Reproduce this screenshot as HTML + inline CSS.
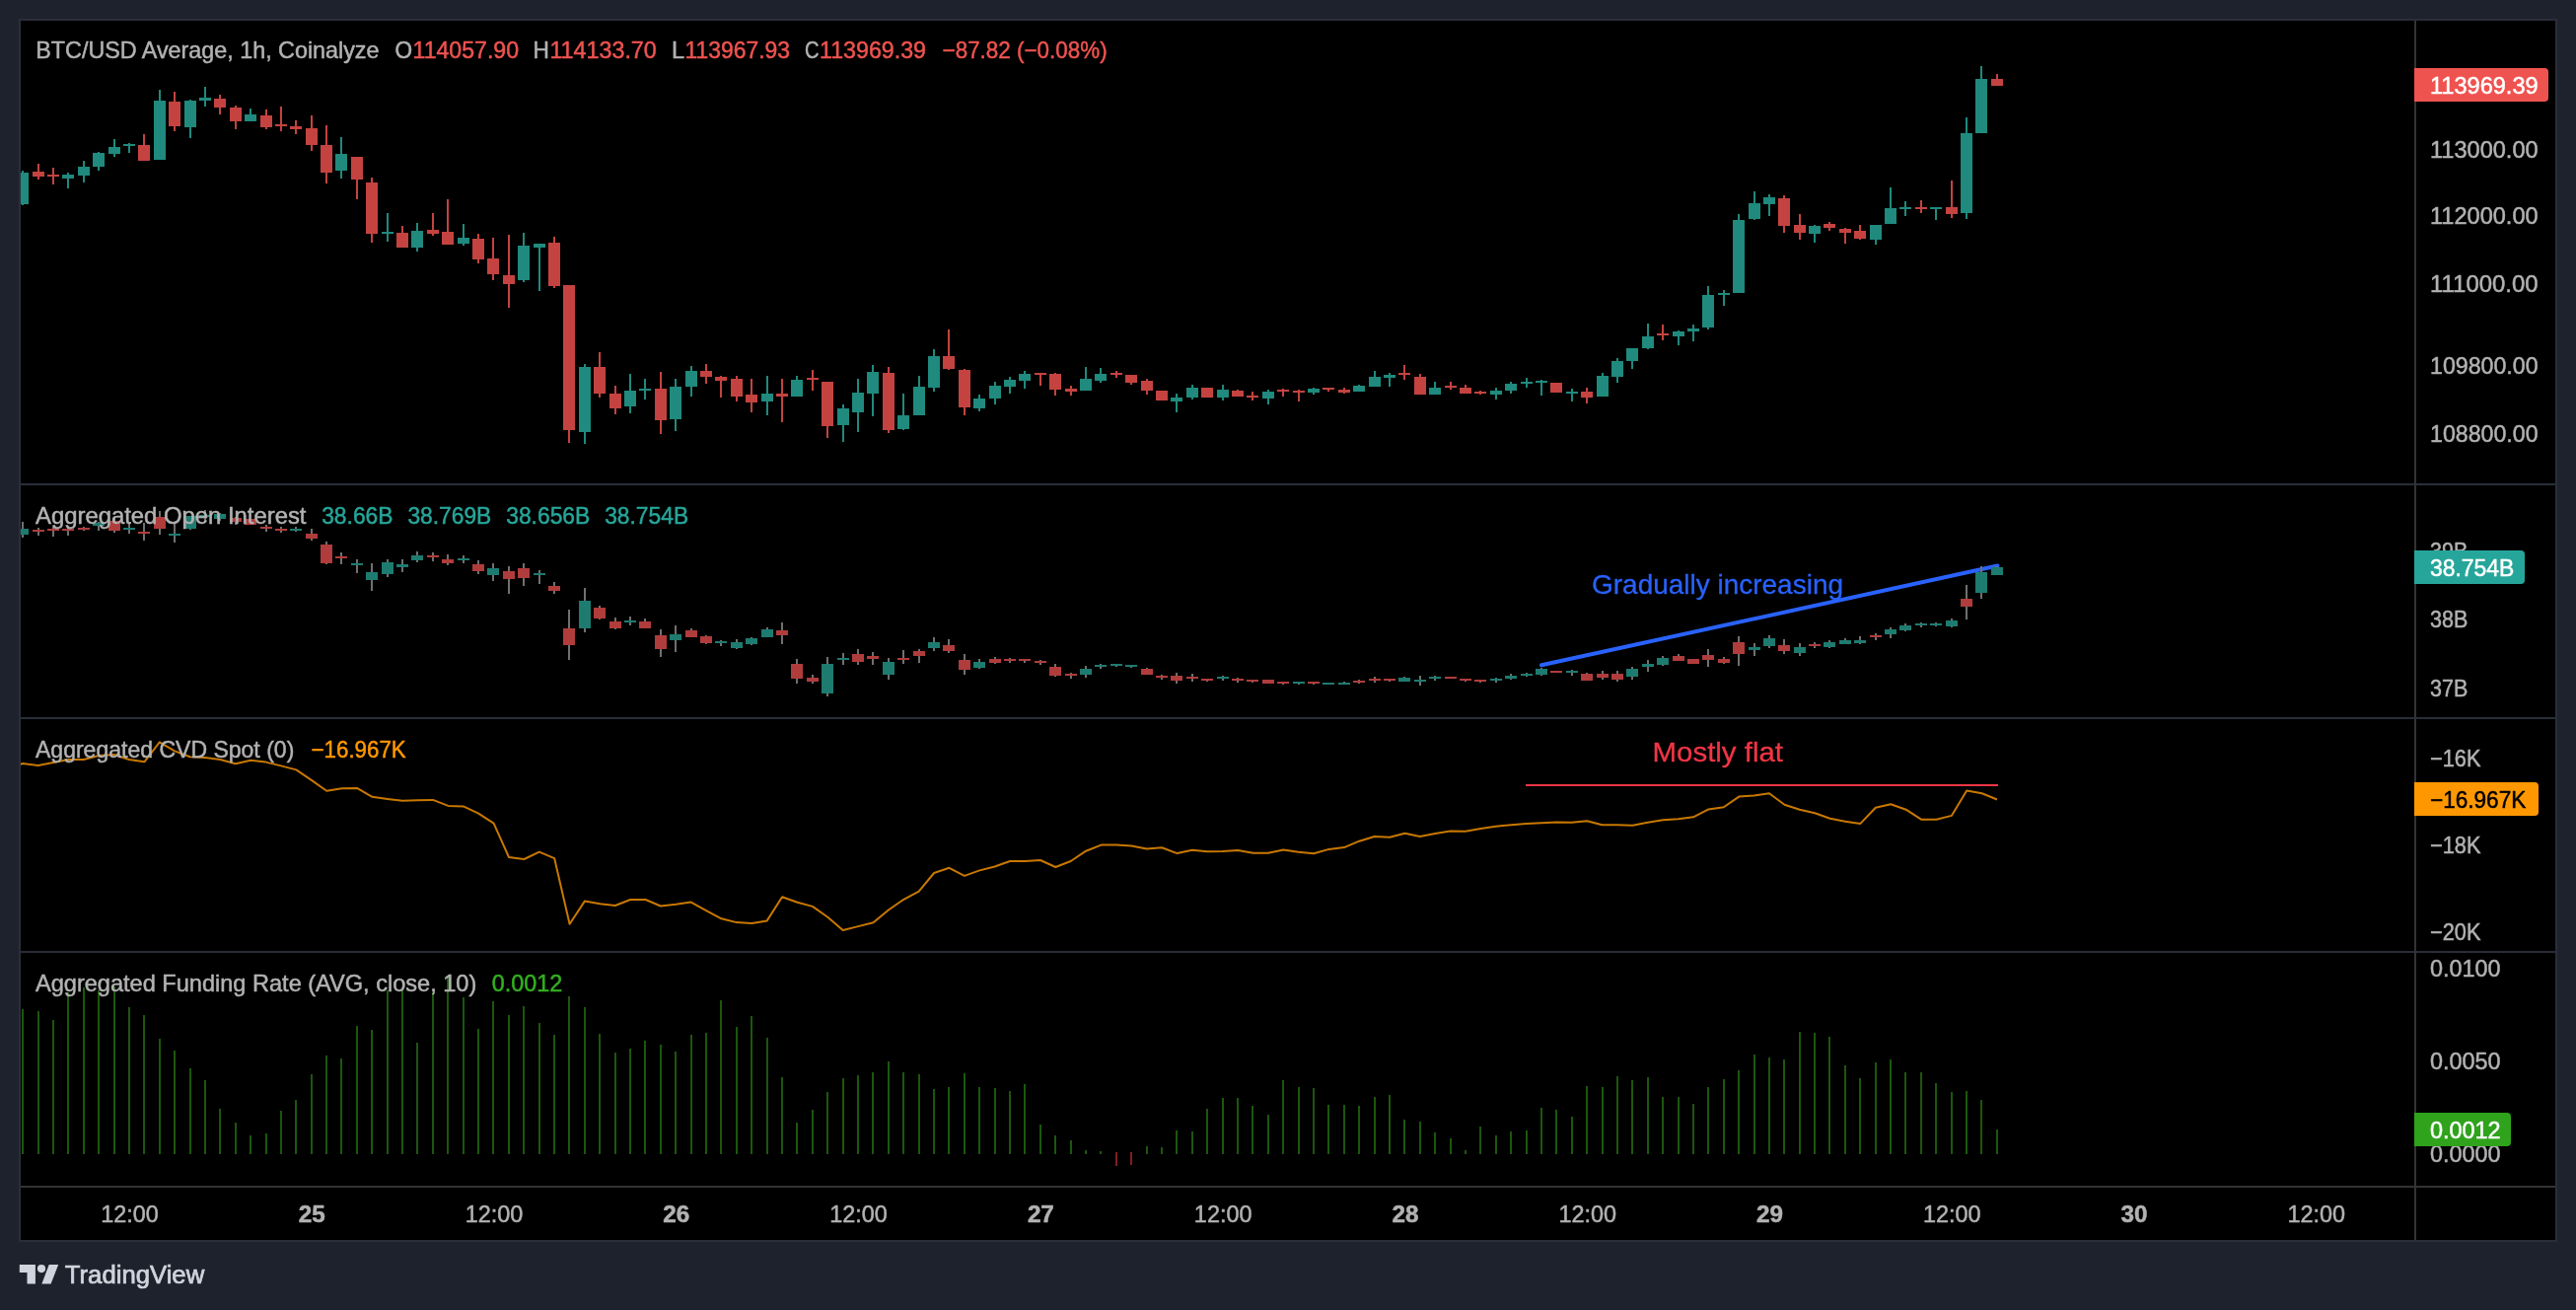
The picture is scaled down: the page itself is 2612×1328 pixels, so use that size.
<!DOCTYPE html>
<html><head><meta charset="utf-8"><title>BTC/USD chart</title>
<style>
html,body{margin:0;padding:0;background:#1e222d;}
body{width:2612px;height:1328px;overflow:hidden;}
svg{display:block;will-change:transform;font-family:"Liberation Sans",sans-serif;}
</style></head><body>
<svg width="2612" height="1328" viewBox="0 0 2612 1328">
<rect x="0" y="0" width="2612" height="1328" fill="#1e222d"/>
<rect x="19" y="19" width="2574" height="1240" fill="#2a2e39"/>
<rect x="21" y="21" width="2570" height="1236" fill="#000"/>
<g shape-rendering="crispEdges">
<clipPath id="cp"><rect x="21" y="21" width="2427" height="1181"/></clipPath>
</g>
<line x1="1563" y1="674.3" x2="2025.5" y2="573.5" stroke="#2962ff" stroke-width="4" stroke-linecap="round"/>
<g shape-rendering="crispEdges">
<g clip-path="url(#cp)">
<rect x="22" y="173" width="2" height="35" fill="#1f8a7d"/>
<rect x="17" y="175" width="12" height="32" fill="#1f8a7d"/>
<rect x="38" y="166" width="2" height="16" fill="#c44340"/>
<rect x="33" y="174" width="12" height="5" fill="#c44340"/>
<rect x="53" y="170" width="2" height="17" fill="#c44340"/>
<rect x="48" y="177" width="12" height="2" fill="#c44340"/>
<rect x="68" y="175" width="2" height="16" fill="#1f8a7d"/>
<rect x="63" y="177" width="12" height="4" fill="#1f8a7d"/>
<rect x="84" y="163" width="2" height="22" fill="#1f8a7d"/>
<rect x="79" y="169" width="12" height="9" fill="#1f8a7d"/>
<rect x="99" y="154" width="2" height="19" fill="#1f8a7d"/>
<rect x="94" y="155" width="12" height="14" fill="#1f8a7d"/>
<rect x="115" y="141" width="2" height="18" fill="#1f8a7d"/>
<rect x="110" y="149" width="12" height="7" fill="#1f8a7d"/>
<rect x="130" y="145" width="2" height="10" fill="#1f8a7d"/>
<rect x="125" y="146" width="12" height="2" fill="#1f8a7d"/>
<rect x="145" y="136" width="2" height="27" fill="#c44340"/>
<rect x="140" y="147" width="12" height="16" fill="#c44340"/>
<rect x="161" y="91" width="2" height="71" fill="#1f8a7d"/>
<rect x="156" y="102" width="12" height="60" fill="#1f8a7d"/>
<rect x="176" y="93" width="2" height="40" fill="#c44340"/>
<rect x="171" y="103" width="12" height="25" fill="#c44340"/>
<rect x="192" y="101" width="2" height="39" fill="#1f8a7d"/>
<rect x="187" y="102" width="12" height="27" fill="#1f8a7d"/>
<rect x="207" y="88" width="2" height="20" fill="#1f8a7d"/>
<rect x="202" y="99" width="12" height="3" fill="#1f8a7d"/>
<rect x="222" y="96" width="2" height="20" fill="#c44340"/>
<rect x="217" y="100" width="12" height="9" fill="#c44340"/>
<rect x="238" y="107" width="2" height="24" fill="#c44340"/>
<rect x="233" y="109" width="12" height="14" fill="#c44340"/>
<rect x="253" y="110" width="2" height="13" fill="#1f8a7d"/>
<rect x="248" y="116" width="12" height="7" fill="#1f8a7d"/>
<rect x="269" y="111" width="2" height="20" fill="#c44340"/>
<rect x="264" y="117" width="12" height="12" fill="#c44340"/>
<rect x="284" y="108" width="2" height="25" fill="#c44340"/>
<rect x="279" y="126" width="12" height="2" fill="#c44340"/>
<rect x="299" y="122" width="2" height="14" fill="#c44340"/>
<rect x="294" y="128" width="12" height="3" fill="#c44340"/>
<rect x="315" y="117" width="2" height="36" fill="#c44340"/>
<rect x="310" y="130" width="12" height="17" fill="#c44340"/>
<rect x="330" y="127" width="2" height="59" fill="#c44340"/>
<rect x="325" y="147" width="12" height="28" fill="#c44340"/>
<rect x="345" y="139" width="2" height="42" fill="#1f8a7d"/>
<rect x="340" y="156" width="12" height="17" fill="#1f8a7d"/>
<rect x="361" y="159" width="2" height="43" fill="#c44340"/>
<rect x="356" y="159" width="12" height="23" fill="#c44340"/>
<rect x="376" y="180" width="2" height="66" fill="#c44340"/>
<rect x="371" y="185" width="12" height="52" fill="#c44340"/>
<rect x="392" y="216" width="2" height="29" fill="#1f8a7d"/>
<rect x="387" y="235" width="12" height="2" fill="#1f8a7d"/>
<rect x="407" y="229" width="2" height="22" fill="#c44340"/>
<rect x="402" y="236" width="12" height="15" fill="#c44340"/>
<rect x="422" y="226" width="2" height="29" fill="#1f8a7d"/>
<rect x="417" y="234" width="12" height="17" fill="#1f8a7d"/>
<rect x="438" y="216" width="2" height="23" fill="#c44340"/>
<rect x="433" y="233" width="12" height="4" fill="#c44340"/>
<rect x="453" y="202" width="2" height="46" fill="#c44340"/>
<rect x="448" y="235" width="12" height="13" fill="#c44340"/>
<rect x="469" y="227" width="2" height="22" fill="#1f8a7d"/>
<rect x="464" y="241" width="12" height="6" fill="#1f8a7d"/>
<rect x="484" y="237" width="2" height="30" fill="#c44340"/>
<rect x="479" y="242" width="12" height="21" fill="#c44340"/>
<rect x="499" y="241" width="2" height="43" fill="#c44340"/>
<rect x="494" y="262" width="12" height="16" fill="#c44340"/>
<rect x="515" y="238" width="2" height="74" fill="#c44340"/>
<rect x="510" y="279" width="12" height="9" fill="#c44340"/>
<rect x="530" y="236" width="2" height="50" fill="#1f8a7d"/>
<rect x="525" y="249" width="12" height="35" fill="#1f8a7d"/>
<rect x="546" y="247" width="2" height="48" fill="#1f8a7d"/>
<rect x="541" y="247" width="12" height="4" fill="#1f8a7d"/>
<rect x="561" y="240" width="2" height="52" fill="#c44340"/>
<rect x="556" y="246" width="12" height="44" fill="#c44340"/>
<rect x="576" y="289" width="2" height="160" fill="#c44340"/>
<rect x="571" y="289" width="12" height="147" fill="#c44340"/>
<rect x="592" y="369" width="2" height="81" fill="#1f8a7d"/>
<rect x="587" y="372" width="12" height="66" fill="#1f8a7d"/>
<rect x="607" y="357" width="2" height="46" fill="#c44340"/>
<rect x="602" y="372" width="12" height="27" fill="#c44340"/>
<rect x="623" y="391" width="2" height="29" fill="#c44340"/>
<rect x="618" y="399" width="12" height="15" fill="#c44340"/>
<rect x="638" y="379" width="2" height="40" fill="#1f8a7d"/>
<rect x="633" y="396" width="12" height="16" fill="#1f8a7d"/>
<rect x="653" y="384" width="2" height="21" fill="#1f8a7d"/>
<rect x="648" y="394" width="12" height="2" fill="#1f8a7d"/>
<rect x="669" y="377" width="2" height="63" fill="#c44340"/>
<rect x="664" y="394" width="12" height="32" fill="#c44340"/>
<rect x="684" y="384" width="2" height="53" fill="#1f8a7d"/>
<rect x="679" y="392" width="12" height="33" fill="#1f8a7d"/>
<rect x="700" y="371" width="2" height="31" fill="#1f8a7d"/>
<rect x="695" y="376" width="12" height="16" fill="#1f8a7d"/>
<rect x="715" y="369" width="2" height="20" fill="#c44340"/>
<rect x="710" y="376" width="12" height="6" fill="#c44340"/>
<rect x="730" y="381" width="2" height="22" fill="#c44340"/>
<rect x="725" y="382" width="12" height="4" fill="#c44340"/>
<rect x="746" y="381" width="2" height="26" fill="#c44340"/>
<rect x="741" y="384" width="12" height="18" fill="#c44340"/>
<rect x="761" y="384" width="2" height="34" fill="#c44340"/>
<rect x="756" y="400" width="12" height="8" fill="#c44340"/>
<rect x="777" y="381" width="2" height="40" fill="#1f8a7d"/>
<rect x="772" y="399" width="12" height="8" fill="#1f8a7d"/>
<rect x="792" y="384" width="2" height="44" fill="#c44340"/>
<rect x="787" y="399" width="12" height="3" fill="#c44340"/>
<rect x="807" y="381" width="2" height="21" fill="#1f8a7d"/>
<rect x="802" y="385" width="12" height="17" fill="#1f8a7d"/>
<rect x="823" y="375" width="2" height="21" fill="#c44340"/>
<rect x="818" y="383" width="12" height="2" fill="#c44340"/>
<rect x="838" y="387" width="2" height="57" fill="#c44340"/>
<rect x="833" y="387" width="12" height="45" fill="#c44340"/>
<rect x="854" y="410" width="2" height="38" fill="#1f8a7d"/>
<rect x="849" y="414" width="12" height="17" fill="#1f8a7d"/>
<rect x="869" y="384" width="2" height="54" fill="#1f8a7d"/>
<rect x="864" y="398" width="12" height="20" fill="#1f8a7d"/>
<rect x="884" y="370" width="2" height="52" fill="#1f8a7d"/>
<rect x="879" y="377" width="12" height="22" fill="#1f8a7d"/>
<rect x="900" y="372" width="2" height="67" fill="#c44340"/>
<rect x="895" y="378" width="12" height="58" fill="#c44340"/>
<rect x="915" y="399" width="2" height="37" fill="#1f8a7d"/>
<rect x="910" y="421" width="12" height="14" fill="#1f8a7d"/>
<rect x="931" y="381" width="2" height="40" fill="#1f8a7d"/>
<rect x="926" y="392" width="12" height="29" fill="#1f8a7d"/>
<rect x="946" y="354" width="2" height="43" fill="#1f8a7d"/>
<rect x="941" y="361" width="12" height="32" fill="#1f8a7d"/>
<rect x="961" y="334" width="2" height="41" fill="#c44340"/>
<rect x="956" y="361" width="12" height="13" fill="#c44340"/>
<rect x="977" y="374" width="2" height="47" fill="#c44340"/>
<rect x="972" y="375" width="12" height="38" fill="#c44340"/>
<rect x="992" y="400" width="2" height="17" fill="#1f8a7d"/>
<rect x="987" y="404" width="12" height="10" fill="#1f8a7d"/>
<rect x="1008" y="387" width="2" height="23" fill="#1f8a7d"/>
<rect x="1003" y="391" width="12" height="13" fill="#1f8a7d"/>
<rect x="1023" y="382" width="2" height="17" fill="#1f8a7d"/>
<rect x="1018" y="385" width="12" height="7" fill="#1f8a7d"/>
<rect x="1038" y="376" width="2" height="18" fill="#1f8a7d"/>
<rect x="1033" y="379" width="12" height="7" fill="#1f8a7d"/>
<rect x="1054" y="378" width="2" height="13" fill="#c44340"/>
<rect x="1049" y="378" width="12" height="2" fill="#c44340"/>
<rect x="1069" y="378" width="2" height="23" fill="#c44340"/>
<rect x="1064" y="379" width="12" height="16" fill="#c44340"/>
<rect x="1085" y="391" width="2" height="10" fill="#c44340"/>
<rect x="1080" y="394" width="12" height="3" fill="#c44340"/>
<rect x="1100" y="372" width="2" height="24" fill="#1f8a7d"/>
<rect x="1095" y="384" width="12" height="12" fill="#1f8a7d"/>
<rect x="1115" y="373" width="2" height="15" fill="#1f8a7d"/>
<rect x="1110" y="379" width="12" height="7" fill="#1f8a7d"/>
<rect x="1131" y="376" width="2" height="7" fill="#c44340"/>
<rect x="1126" y="378" width="12" height="2" fill="#c44340"/>
<rect x="1146" y="380" width="2" height="10" fill="#c44340"/>
<rect x="1141" y="380" width="12" height="8" fill="#c44340"/>
<rect x="1162" y="384" width="2" height="16" fill="#c44340"/>
<rect x="1157" y="386" width="12" height="10" fill="#c44340"/>
<rect x="1177" y="396" width="2" height="10" fill="#c44340"/>
<rect x="1172" y="396" width="12" height="10" fill="#c44340"/>
<rect x="1192" y="399" width="2" height="19" fill="#1f8a7d"/>
<rect x="1187" y="403" width="12" height="4" fill="#1f8a7d"/>
<rect x="1208" y="390" width="2" height="15" fill="#1f8a7d"/>
<rect x="1203" y="393" width="12" height="10" fill="#1f8a7d"/>
<rect x="1223" y="393" width="2" height="10" fill="#c44340"/>
<rect x="1218" y="393" width="12" height="10" fill="#c44340"/>
<rect x="1239" y="390" width="2" height="16" fill="#1f8a7d"/>
<rect x="1234" y="395" width="12" height="8" fill="#1f8a7d"/>
<rect x="1254" y="395" width="2" height="7" fill="#c44340"/>
<rect x="1249" y="396" width="12" height="6" fill="#c44340"/>
<rect x="1269" y="397" width="2" height="9" fill="#c44340"/>
<rect x="1264" y="401" width="12" height="2" fill="#c44340"/>
<rect x="1285" y="395" width="2" height="15" fill="#1f8a7d"/>
<rect x="1280" y="397" width="12" height="7" fill="#1f8a7d"/>
<rect x="1300" y="394" width="2" height="8" fill="#c44340"/>
<rect x="1295" y="395" width="12" height="2" fill="#c44340"/>
<rect x="1316" y="395" width="2" height="12" fill="#c44340"/>
<rect x="1311" y="396" width="12" height="2" fill="#c44340"/>
<rect x="1331" y="393" width="2" height="7" fill="#1f8a7d"/>
<rect x="1326" y="394" width="12" height="4" fill="#1f8a7d"/>
<rect x="1346" y="393" width="2" height="4" fill="#c44340"/>
<rect x="1341" y="393" width="12" height="2" fill="#c44340"/>
<rect x="1362" y="393" width="2" height="6" fill="#c44340"/>
<rect x="1357" y="395" width="12" height="3" fill="#c44340"/>
<rect x="1377" y="390" width="2" height="7" fill="#1f8a7d"/>
<rect x="1372" y="391" width="12" height="6" fill="#1f8a7d"/>
<rect x="1393" y="376" width="2" height="16" fill="#1f8a7d"/>
<rect x="1388" y="382" width="12" height="10" fill="#1f8a7d"/>
<rect x="1408" y="378" width="2" height="14" fill="#1f8a7d"/>
<rect x="1403" y="380" width="12" height="3" fill="#1f8a7d"/>
<rect x="1423" y="370" width="2" height="15" fill="#c44340"/>
<rect x="1418" y="378" width="12" height="2" fill="#c44340"/>
<rect x="1439" y="379" width="2" height="21" fill="#c44340"/>
<rect x="1434" y="382" width="12" height="18" fill="#c44340"/>
<rect x="1454" y="387" width="2" height="13" fill="#1f8a7d"/>
<rect x="1449" y="393" width="12" height="7" fill="#1f8a7d"/>
<rect x="1470" y="387" width="2" height="8" fill="#c44340"/>
<rect x="1465" y="391" width="12" height="2" fill="#c44340"/>
<rect x="1485" y="390" width="2" height="9" fill="#c44340"/>
<rect x="1480" y="393" width="12" height="6" fill="#c44340"/>
<rect x="1500" y="396" width="2" height="4" fill="#c44340"/>
<rect x="1495" y="397" width="12" height="2" fill="#c44340"/>
<rect x="1516" y="393" width="2" height="12" fill="#1f8a7d"/>
<rect x="1511" y="396" width="12" height="4" fill="#1f8a7d"/>
<rect x="1531" y="387" width="2" height="12" fill="#1f8a7d"/>
<rect x="1526" y="389" width="12" height="7" fill="#1f8a7d"/>
<rect x="1547" y="383" width="2" height="10" fill="#1f8a7d"/>
<rect x="1542" y="387" width="12" height="2" fill="#1f8a7d"/>
<rect x="1562" y="385" width="2" height="16" fill="#1f8a7d"/>
<rect x="1557" y="386" width="12" height="2" fill="#1f8a7d"/>
<rect x="1577" y="388" width="2" height="10" fill="#c44340"/>
<rect x="1572" y="388" width="12" height="10" fill="#c44340"/>
<rect x="1593" y="394" width="2" height="13" fill="#1f8a7d"/>
<rect x="1588" y="397" width="12" height="2" fill="#1f8a7d"/>
<rect x="1608" y="393" width="2" height="16" fill="#c44340"/>
<rect x="1603" y="397" width="12" height="6" fill="#c44340"/>
<rect x="1624" y="378" width="2" height="24" fill="#1f8a7d"/>
<rect x="1619" y="381" width="12" height="21" fill="#1f8a7d"/>
<rect x="1639" y="363" width="2" height="25" fill="#1f8a7d"/>
<rect x="1634" y="366" width="12" height="16" fill="#1f8a7d"/>
<rect x="1654" y="353" width="2" height="21" fill="#1f8a7d"/>
<rect x="1649" y="353" width="12" height="13" fill="#1f8a7d"/>
<rect x="1670" y="328" width="2" height="26" fill="#1f8a7d"/>
<rect x="1665" y="341" width="12" height="12" fill="#1f8a7d"/>
<rect x="1685" y="329" width="2" height="16" fill="#c44340"/>
<rect x="1680" y="338" width="12" height="2" fill="#c44340"/>
<rect x="1701" y="335" width="2" height="15" fill="#1f8a7d"/>
<rect x="1696" y="336" width="12" height="5" fill="#1f8a7d"/>
<rect x="1716" y="329" width="2" height="17" fill="#1f8a7d"/>
<rect x="1711" y="333" width="12" height="3" fill="#1f8a7d"/>
<rect x="1731" y="290" width="2" height="44" fill="#1f8a7d"/>
<rect x="1726" y="299" width="12" height="33" fill="#1f8a7d"/>
<rect x="1747" y="294" width="2" height="16" fill="#1f8a7d"/>
<rect x="1742" y="297" width="12" height="2" fill="#1f8a7d"/>
<rect x="1762" y="217" width="2" height="80" fill="#1f8a7d"/>
<rect x="1757" y="223" width="12" height="74" fill="#1f8a7d"/>
<rect x="1778" y="194" width="2" height="29" fill="#1f8a7d"/>
<rect x="1773" y="206" width="12" height="16" fill="#1f8a7d"/>
<rect x="1793" y="197" width="2" height="22" fill="#1f8a7d"/>
<rect x="1788" y="200" width="12" height="7" fill="#1f8a7d"/>
<rect x="1808" y="198" width="2" height="38" fill="#c44340"/>
<rect x="1803" y="201" width="12" height="28" fill="#c44340"/>
<rect x="1824" y="217" width="2" height="26" fill="#c44340"/>
<rect x="1819" y="228" width="12" height="8" fill="#c44340"/>
<rect x="1839" y="228" width="2" height="18" fill="#1f8a7d"/>
<rect x="1834" y="229" width="12" height="8" fill="#1f8a7d"/>
<rect x="1854" y="225" width="2" height="9" fill="#c44340"/>
<rect x="1849" y="227" width="12" height="4" fill="#c44340"/>
<rect x="1870" y="231" width="2" height="16" fill="#c44340"/>
<rect x="1865" y="232" width="12" height="4" fill="#c44340"/>
<rect x="1885" y="228" width="2" height="15" fill="#c44340"/>
<rect x="1880" y="234" width="12" height="8" fill="#c44340"/>
<rect x="1901" y="228" width="2" height="20" fill="#1f8a7d"/>
<rect x="1896" y="228" width="12" height="15" fill="#1f8a7d"/>
<rect x="1916" y="190" width="2" height="37" fill="#1f8a7d"/>
<rect x="1911" y="211" width="12" height="16" fill="#1f8a7d"/>
<rect x="1931" y="204" width="2" height="15" fill="#1f8a7d"/>
<rect x="1926" y="210" width="12" height="2" fill="#1f8a7d"/>
<rect x="1947" y="203" width="2" height="13" fill="#c44340"/>
<rect x="1942" y="210" width="12" height="2" fill="#c44340"/>
<rect x="1962" y="210" width="2" height="13" fill="#1f8a7d"/>
<rect x="1957" y="210" width="12" height="2" fill="#1f8a7d"/>
<rect x="1978" y="183" width="2" height="38" fill="#c44340"/>
<rect x="1973" y="210" width="12" height="7" fill="#c44340"/>
<rect x="1993" y="119" width="2" height="103" fill="#1f8a7d"/>
<rect x="1988" y="135" width="12" height="81" fill="#1f8a7d"/>
<rect x="2008" y="67" width="2" height="68" fill="#1f8a7d"/>
<rect x="2003" y="80" width="12" height="55" fill="#1f8a7d"/>
<rect x="2024" y="75" width="2" height="12" fill="#c44340"/>
<rect x="2019" y="80" width="12" height="7" fill="#c44340"/>
</g>
<g clip-path="url(#cp)">
<rect x="22" y="529" width="2" height="7" fill="#707070"/>
<rect x="22" y="542" width="2" height="3" fill="#707070"/>
<rect x="17" y="536" width="12" height="6" fill="#1e7b70"/>
<rect x="38" y="535" width="2" height="2" fill="#707070"/>
<rect x="38" y="539" width="2" height="4" fill="#707070"/>
<rect x="33" y="537" width="12" height="2" fill="#b03c3c"/>
<rect x="53" y="534" width="2" height="2" fill="#707070"/>
<rect x="53" y="538" width="2" height="6" fill="#707070"/>
<rect x="48" y="536" width="12" height="2" fill="#b03c3c"/>
<rect x="68" y="534" width="2" height="2" fill="#707070"/>
<rect x="68" y="538" width="2" height="5" fill="#707070"/>
<rect x="63" y="536" width="12" height="2" fill="#b03c3c"/>
<rect x="84" y="534" width="2" height="1" fill="#707070"/>
<rect x="84" y="537" width="2" height="1" fill="#707070"/>
<rect x="79" y="535" width="12" height="2" fill="#b03c3c"/>
<rect x="99" y="529" width="2" height="1" fill="#707070"/>
<rect x="99" y="533" width="2" height="5" fill="#707070"/>
<rect x="94" y="530" width="12" height="3" fill="#1e7b70"/>
<rect x="115" y="525" width="2" height="3" fill="#707070"/>
<rect x="115" y="538" width="2" height="2" fill="#707070"/>
<rect x="110" y="528" width="12" height="10" fill="#b03c3c"/>
<rect x="130" y="531" width="2" height="4" fill="#707070"/>
<rect x="130" y="537" width="2" height="4" fill="#707070"/>
<rect x="125" y="535" width="12" height="2" fill="#1e7b70"/>
<rect x="145" y="530" width="2" height="9" fill="#707070"/>
<rect x="145" y="541" width="2" height="7" fill="#707070"/>
<rect x="140" y="539" width="12" height="2" fill="#b03c3c"/>
<rect x="161" y="518" width="2" height="6" fill="#707070"/>
<rect x="161" y="536" width="2" height="6" fill="#707070"/>
<rect x="156" y="524" width="12" height="12" fill="#b03c3c"/>
<rect x="176" y="530" width="2" height="11" fill="#707070"/>
<rect x="176" y="543" width="2" height="7" fill="#707070"/>
<rect x="171" y="541" width="12" height="2" fill="#1e7b70"/>
<rect x="192" y="536" width="2" height="1" fill="#707070"/>
<rect x="187" y="523" width="12" height="13" fill="#1e7b70"/>
<rect x="207" y="517" width="2" height="5" fill="#707070"/>
<rect x="207" y="524" width="2" height="5" fill="#707070"/>
<rect x="202" y="522" width="12" height="2" fill="#1e7b70"/>
<rect x="222" y="520" width="2" height="1" fill="#707070"/>
<rect x="222" y="526" width="2" height="2" fill="#707070"/>
<rect x="217" y="521" width="12" height="5" fill="#1e7b70"/>
<rect x="238" y="524" width="2" height="1" fill="#707070"/>
<rect x="238" y="529" width="2" height="3" fill="#707070"/>
<rect x="233" y="525" width="12" height="4" fill="#b03c3c"/>
<rect x="248" y="526" width="12" height="6" fill="#b03c3c"/>
<rect x="269" y="532" width="2" height="2" fill="#707070"/>
<rect x="269" y="536" width="2" height="3" fill="#707070"/>
<rect x="264" y="534" width="12" height="2" fill="#b03c3c"/>
<rect x="284" y="534" width="2" height="2" fill="#707070"/>
<rect x="284" y="538" width="2" height="2" fill="#707070"/>
<rect x="279" y="536" width="12" height="2" fill="#b03c3c"/>
<rect x="299" y="534" width="2" height="2" fill="#707070"/>
<rect x="299" y="538" width="2" height="1" fill="#707070"/>
<rect x="294" y="536" width="12" height="2" fill="#1e7b70"/>
<rect x="315" y="536" width="2" height="5" fill="#707070"/>
<rect x="315" y="546" width="2" height="2" fill="#707070"/>
<rect x="310" y="541" width="12" height="5" fill="#b03c3c"/>
<rect x="330" y="549" width="2" height="3" fill="#707070"/>
<rect x="330" y="571" width="2" height="1" fill="#707070"/>
<rect x="325" y="552" width="12" height="19" fill="#b03c3c"/>
<rect x="345" y="560" width="2" height="4" fill="#707070"/>
<rect x="345" y="566" width="2" height="6" fill="#707070"/>
<rect x="340" y="564" width="12" height="2" fill="#b03c3c"/>
<rect x="361" y="567" width="2" height="4" fill="#707070"/>
<rect x="361" y="573" width="2" height="8" fill="#707070"/>
<rect x="356" y="571" width="12" height="2" fill="#1e7b70"/>
<rect x="376" y="571" width="2" height="9" fill="#707070"/>
<rect x="376" y="588" width="2" height="11" fill="#707070"/>
<rect x="371" y="580" width="12" height="8" fill="#1e7b70"/>
<rect x="392" y="567" width="2" height="3" fill="#707070"/>
<rect x="392" y="582" width="2" height="3" fill="#707070"/>
<rect x="387" y="570" width="12" height="12" fill="#1e7b70"/>
<rect x="407" y="567" width="2" height="5" fill="#707070"/>
<rect x="407" y="575" width="2" height="5" fill="#707070"/>
<rect x="402" y="572" width="12" height="3" fill="#1e7b70"/>
<rect x="422" y="559" width="2" height="4" fill="#707070"/>
<rect x="422" y="568" width="2" height="2" fill="#707070"/>
<rect x="417" y="563" width="12" height="5" fill="#1e7b70"/>
<rect x="438" y="560" width="2" height="3" fill="#707070"/>
<rect x="438" y="565" width="2" height="4" fill="#707070"/>
<rect x="433" y="563" width="12" height="2" fill="#b03c3c"/>
<rect x="453" y="562" width="2" height="5" fill="#707070"/>
<rect x="453" y="571" width="2" height="2" fill="#707070"/>
<rect x="448" y="567" width="12" height="4" fill="#b03c3c"/>
<rect x="469" y="563" width="2" height="3" fill="#707070"/>
<rect x="469" y="568" width="2" height="3" fill="#707070"/>
<rect x="464" y="566" width="12" height="2" fill="#1e7b70"/>
<rect x="484" y="568" width="2" height="4" fill="#707070"/>
<rect x="484" y="579" width="2" height="3" fill="#707070"/>
<rect x="479" y="572" width="12" height="7" fill="#b03c3c"/>
<rect x="499" y="571" width="2" height="5" fill="#707070"/>
<rect x="499" y="583" width="2" height="6" fill="#707070"/>
<rect x="494" y="576" width="12" height="7" fill="#1e7b70"/>
<rect x="515" y="574" width="2" height="5" fill="#707070"/>
<rect x="515" y="587" width="2" height="15" fill="#707070"/>
<rect x="510" y="579" width="12" height="8" fill="#b03c3c"/>
<rect x="530" y="571" width="2" height="5" fill="#707070"/>
<rect x="530" y="586" width="2" height="8" fill="#707070"/>
<rect x="525" y="576" width="12" height="10" fill="#b03c3c"/>
<rect x="546" y="578" width="2" height="3" fill="#707070"/>
<rect x="546" y="583" width="2" height="9" fill="#707070"/>
<rect x="541" y="581" width="12" height="2" fill="#1e7b70"/>
<rect x="561" y="590" width="2" height="4" fill="#707070"/>
<rect x="561" y="599" width="2" height="3" fill="#707070"/>
<rect x="556" y="594" width="12" height="5" fill="#b03c3c"/>
<rect x="576" y="618" width="2" height="19" fill="#707070"/>
<rect x="576" y="654" width="2" height="15" fill="#707070"/>
<rect x="571" y="637" width="12" height="17" fill="#b03c3c"/>
<rect x="592" y="596" width="2" height="13" fill="#707070"/>
<rect x="592" y="637" width="2" height="4" fill="#707070"/>
<rect x="587" y="609" width="12" height="28" fill="#1e7b70"/>
<rect x="607" y="614" width="2" height="2" fill="#707070"/>
<rect x="607" y="627" width="2" height="1" fill="#707070"/>
<rect x="602" y="616" width="12" height="11" fill="#b03c3c"/>
<rect x="623" y="626" width="2" height="4" fill="#707070"/>
<rect x="623" y="637" width="2" height="1" fill="#707070"/>
<rect x="618" y="630" width="12" height="7" fill="#b03c3c"/>
<rect x="638" y="625" width="2" height="4" fill="#707070"/>
<rect x="638" y="631" width="2" height="3" fill="#707070"/>
<rect x="633" y="629" width="12" height="2" fill="#1e7b70"/>
<rect x="653" y="627" width="2" height="3" fill="#707070"/>
<rect x="648" y="630" width="12" height="7" fill="#b03c3c"/>
<rect x="669" y="638" width="2" height="6" fill="#707070"/>
<rect x="669" y="658" width="2" height="8" fill="#707070"/>
<rect x="664" y="644" width="12" height="14" fill="#b03c3c"/>
<rect x="684" y="634" width="2" height="9" fill="#707070"/>
<rect x="684" y="649" width="2" height="12" fill="#707070"/>
<rect x="679" y="643" width="12" height="6" fill="#1e7b70"/>
<rect x="700" y="637" width="2" height="2" fill="#707070"/>
<rect x="695" y="639" width="12" height="7" fill="#b03c3c"/>
<rect x="715" y="644" width="2" height="1" fill="#707070"/>
<rect x="715" y="652" width="2" height="1" fill="#707070"/>
<rect x="710" y="645" width="12" height="7" fill="#b03c3c"/>
<rect x="730" y="649" width="2" height="1" fill="#707070"/>
<rect x="730" y="652" width="2" height="3" fill="#707070"/>
<rect x="725" y="650" width="12" height="2" fill="#1e7b70"/>
<rect x="746" y="648" width="2" height="3" fill="#707070"/>
<rect x="746" y="657" width="2" height="1" fill="#707070"/>
<rect x="741" y="651" width="12" height="6" fill="#1e7b70"/>
<rect x="761" y="646" width="2" height="1" fill="#707070"/>
<rect x="761" y="653" width="2" height="1" fill="#707070"/>
<rect x="756" y="647" width="12" height="6" fill="#1e7b70"/>
<rect x="777" y="636" width="2" height="2" fill="#707070"/>
<rect x="772" y="638" width="12" height="8" fill="#1e7b70"/>
<rect x="792" y="631" width="2" height="8" fill="#707070"/>
<rect x="792" y="644" width="2" height="9" fill="#707070"/>
<rect x="787" y="639" width="12" height="5" fill="#b03c3c"/>
<rect x="807" y="668" width="2" height="5" fill="#707070"/>
<rect x="807" y="688" width="2" height="5" fill="#707070"/>
<rect x="802" y="673" width="12" height="15" fill="#b03c3c"/>
<rect x="823" y="684" width="2" height="3" fill="#707070"/>
<rect x="823" y="691" width="2" height="2" fill="#707070"/>
<rect x="818" y="687" width="12" height="4" fill="#b03c3c"/>
<rect x="838" y="666" width="2" height="7" fill="#707070"/>
<rect x="838" y="703" width="2" height="3" fill="#707070"/>
<rect x="833" y="673" width="12" height="30" fill="#1e7b70"/>
<rect x="854" y="662" width="2" height="5" fill="#707070"/>
<rect x="854" y="669" width="2" height="5" fill="#707070"/>
<rect x="849" y="667" width="12" height="2" fill="#1e7b70"/>
<rect x="869" y="658" width="2" height="5" fill="#707070"/>
<rect x="869" y="671" width="2" height="3" fill="#707070"/>
<rect x="864" y="663" width="12" height="8" fill="#b03c3c"/>
<rect x="884" y="661" width="2" height="4" fill="#707070"/>
<rect x="884" y="668" width="2" height="6" fill="#707070"/>
<rect x="879" y="665" width="12" height="3" fill="#b03c3c"/>
<rect x="900" y="667" width="2" height="4" fill="#707070"/>
<rect x="900" y="684" width="2" height="5" fill="#707070"/>
<rect x="895" y="671" width="12" height="13" fill="#1e7b70"/>
<rect x="915" y="659" width="2" height="8" fill="#707070"/>
<rect x="915" y="669" width="2" height="4" fill="#707070"/>
<rect x="910" y="667" width="12" height="2" fill="#b03c3c"/>
<rect x="931" y="658" width="2" height="2" fill="#707070"/>
<rect x="931" y="665" width="2" height="7" fill="#707070"/>
<rect x="926" y="660" width="12" height="5" fill="#b03c3c"/>
<rect x="946" y="646" width="2" height="5" fill="#707070"/>
<rect x="946" y="657" width="2" height="3" fill="#707070"/>
<rect x="941" y="651" width="12" height="6" fill="#1e7b70"/>
<rect x="961" y="648" width="2" height="6" fill="#707070"/>
<rect x="961" y="660" width="2" height="2" fill="#707070"/>
<rect x="956" y="654" width="12" height="6" fill="#b03c3c"/>
<rect x="977" y="663" width="2" height="6" fill="#707070"/>
<rect x="977" y="679" width="2" height="5" fill="#707070"/>
<rect x="972" y="669" width="12" height="10" fill="#b03c3c"/>
<rect x="992" y="668" width="2" height="3" fill="#707070"/>
<rect x="992" y="677" width="2" height="1" fill="#707070"/>
<rect x="987" y="671" width="12" height="6" fill="#1e7b70"/>
<rect x="1008" y="666" width="2" height="2" fill="#707070"/>
<rect x="1008" y="672" width="2" height="1" fill="#707070"/>
<rect x="1003" y="668" width="12" height="4" fill="#b03c3c"/>
<rect x="1023" y="667" width="2" height="1" fill="#707070"/>
<rect x="1023" y="670" width="2" height="2" fill="#707070"/>
<rect x="1018" y="668" width="12" height="2" fill="#b03c3c"/>
<rect x="1038" y="670" width="2" height="2" fill="#707070"/>
<rect x="1033" y="668" width="12" height="2" fill="#b03c3c"/>
<rect x="1054" y="669" width="2" height="1" fill="#707070"/>
<rect x="1054" y="672" width="2" height="2" fill="#707070"/>
<rect x="1049" y="670" width="12" height="2" fill="#b03c3c"/>
<rect x="1069" y="673" width="2" height="3" fill="#707070"/>
<rect x="1069" y="685" width="2" height="1" fill="#707070"/>
<rect x="1064" y="676" width="12" height="9" fill="#b03c3c"/>
<rect x="1085" y="682" width="2" height="1" fill="#707070"/>
<rect x="1085" y="685" width="2" height="3" fill="#707070"/>
<rect x="1080" y="683" width="12" height="2" fill="#b03c3c"/>
<rect x="1100" y="675" width="2" height="3" fill="#707070"/>
<rect x="1100" y="684" width="2" height="3" fill="#707070"/>
<rect x="1095" y="678" width="12" height="6" fill="#1e7b70"/>
<rect x="1115" y="673" width="2" height="1" fill="#707070"/>
<rect x="1115" y="676" width="2" height="2" fill="#707070"/>
<rect x="1110" y="674" width="12" height="2" fill="#1e7b70"/>
<rect x="1131" y="675" width="2" height="1" fill="#707070"/>
<rect x="1126" y="673" width="12" height="2" fill="#1e7b70"/>
<rect x="1146" y="676" width="2" height="1" fill="#707070"/>
<rect x="1141" y="674" width="12" height="2" fill="#1e7b70"/>
<rect x="1162" y="677" width="2" height="1" fill="#707070"/>
<rect x="1157" y="678" width="12" height="6" fill="#b03c3c"/>
<rect x="1177" y="684" width="2" height="1" fill="#707070"/>
<rect x="1177" y="687" width="2" height="2" fill="#707070"/>
<rect x="1172" y="685" width="12" height="2" fill="#b03c3c"/>
<rect x="1192" y="682" width="2" height="3" fill="#707070"/>
<rect x="1192" y="690" width="2" height="3" fill="#707070"/>
<rect x="1187" y="685" width="12" height="5" fill="#b03c3c"/>
<rect x="1208" y="683" width="2" height="3" fill="#707070"/>
<rect x="1208" y="688" width="2" height="3" fill="#707070"/>
<rect x="1203" y="686" width="12" height="2" fill="#b03c3c"/>
<rect x="1223" y="690" width="2" height="1" fill="#707070"/>
<rect x="1218" y="688" width="12" height="2" fill="#b03c3c"/>
<rect x="1239" y="685" width="2" height="1" fill="#707070"/>
<rect x="1239" y="688" width="2" height="2" fill="#707070"/>
<rect x="1234" y="686" width="12" height="2" fill="#1e7b70"/>
<rect x="1254" y="687" width="2" height="1" fill="#707070"/>
<rect x="1254" y="690" width="2" height="2" fill="#707070"/>
<rect x="1249" y="688" width="12" height="2" fill="#b03c3c"/>
<rect x="1269" y="691" width="2" height="1" fill="#707070"/>
<rect x="1264" y="689" width="12" height="2" fill="#b03c3c"/>
<rect x="1280" y="689" width="12" height="4" fill="#b03c3c"/>
<rect x="1300" y="693" width="2" height="1" fill="#707070"/>
<rect x="1295" y="691" width="12" height="2" fill="#b03c3c"/>
<rect x="1316" y="693" width="2" height="1" fill="#707070"/>
<rect x="1311" y="691" width="12" height="2" fill="#1e7b70"/>
<rect x="1331" y="693" width="2" height="1" fill="#707070"/>
<rect x="1326" y="691" width="12" height="2" fill="#b03c3c"/>
<rect x="1341" y="692" width="12" height="2" fill="#1e7b70"/>
<rect x="1362" y="691" width="2" height="1" fill="#707070"/>
<rect x="1357" y="692" width="12" height="2" fill="#1e7b70"/>
<rect x="1377" y="689" width="2" height="1" fill="#707070"/>
<rect x="1377" y="692" width="2" height="1" fill="#707070"/>
<rect x="1372" y="690" width="12" height="2" fill="#b03c3c"/>
<rect x="1393" y="686" width="2" height="2" fill="#707070"/>
<rect x="1393" y="690" width="2" height="2" fill="#707070"/>
<rect x="1388" y="688" width="12" height="2" fill="#b03c3c"/>
<rect x="1408" y="690" width="2" height="1" fill="#707070"/>
<rect x="1403" y="688" width="12" height="2" fill="#b03c3c"/>
<rect x="1423" y="686" width="2" height="1" fill="#707070"/>
<rect x="1418" y="687" width="12" height="4" fill="#1e7b70"/>
<rect x="1439" y="685" width="2" height="4" fill="#707070"/>
<rect x="1439" y="691" width="2" height="4" fill="#707070"/>
<rect x="1434" y="689" width="12" height="2" fill="#1e7b70"/>
<rect x="1454" y="685" width="2" height="1" fill="#707070"/>
<rect x="1454" y="688" width="2" height="2" fill="#707070"/>
<rect x="1449" y="686" width="12" height="2" fill="#1e7b70"/>
<rect x="1465" y="686" width="12" height="2" fill="#b03c3c"/>
<rect x="1485" y="690" width="2" height="1" fill="#707070"/>
<rect x="1480" y="688" width="12" height="2" fill="#b03c3c"/>
<rect x="1500" y="691" width="2" height="1" fill="#707070"/>
<rect x="1495" y="689" width="12" height="2" fill="#b03c3c"/>
<rect x="1516" y="687" width="2" height="1" fill="#707070"/>
<rect x="1516" y="690" width="2" height="2" fill="#707070"/>
<rect x="1511" y="688" width="12" height="2" fill="#1e7b70"/>
<rect x="1531" y="683" width="2" height="2" fill="#707070"/>
<rect x="1531" y="688" width="2" height="1" fill="#707070"/>
<rect x="1526" y="685" width="12" height="3" fill="#1e7b70"/>
<rect x="1547" y="682" width="2" height="1" fill="#707070"/>
<rect x="1547" y="685" width="2" height="1" fill="#707070"/>
<rect x="1542" y="683" width="12" height="2" fill="#1e7b70"/>
<rect x="1562" y="677" width="2" height="1" fill="#707070"/>
<rect x="1562" y="684" width="2" height="1" fill="#707070"/>
<rect x="1557" y="678" width="12" height="6" fill="#1e7b70"/>
<rect x="1572" y="680" width="12" height="2" fill="#b03c3c"/>
<rect x="1593" y="679" width="2" height="1" fill="#707070"/>
<rect x="1593" y="682" width="2" height="3" fill="#707070"/>
<rect x="1588" y="680" width="12" height="2" fill="#1e7b70"/>
<rect x="1608" y="682" width="2" height="1" fill="#707070"/>
<rect x="1603" y="683" width="12" height="7" fill="#b03c3c"/>
<rect x="1624" y="680" width="2" height="3" fill="#707070"/>
<rect x="1624" y="687" width="2" height="2" fill="#707070"/>
<rect x="1619" y="683" width="12" height="4" fill="#b03c3c"/>
<rect x="1639" y="680" width="2" height="3" fill="#707070"/>
<rect x="1639" y="689" width="2" height="2" fill="#707070"/>
<rect x="1634" y="683" width="12" height="6" fill="#b03c3c"/>
<rect x="1654" y="676" width="2" height="2" fill="#707070"/>
<rect x="1654" y="686" width="2" height="3" fill="#707070"/>
<rect x="1649" y="678" width="12" height="8" fill="#1e7b70"/>
<rect x="1670" y="669" width="2" height="4" fill="#707070"/>
<rect x="1670" y="676" width="2" height="5" fill="#707070"/>
<rect x="1665" y="673" width="12" height="3" fill="#1e7b70"/>
<rect x="1685" y="665" width="2" height="2" fill="#707070"/>
<rect x="1685" y="674" width="2" height="1" fill="#707070"/>
<rect x="1680" y="667" width="12" height="7" fill="#1e7b70"/>
<rect x="1701" y="663" width="2" height="2" fill="#707070"/>
<rect x="1696" y="665" width="12" height="5" fill="#b03c3c"/>
<rect x="1711" y="668" width="12" height="5" fill="#b03c3c"/>
<rect x="1731" y="658" width="2" height="6" fill="#707070"/>
<rect x="1731" y="669" width="2" height="7" fill="#707070"/>
<rect x="1726" y="664" width="12" height="5" fill="#b03c3c"/>
<rect x="1747" y="666" width="2" height="2" fill="#707070"/>
<rect x="1747" y="672" width="2" height="1" fill="#707070"/>
<rect x="1742" y="668" width="12" height="4" fill="#b03c3c"/>
<rect x="1762" y="645" width="2" height="6" fill="#707070"/>
<rect x="1762" y="663" width="2" height="12" fill="#707070"/>
<rect x="1757" y="651" width="12" height="12" fill="#b03c3c"/>
<rect x="1778" y="652" width="2" height="4" fill="#707070"/>
<rect x="1778" y="659" width="2" height="6" fill="#707070"/>
<rect x="1773" y="656" width="12" height="3" fill="#1e7b70"/>
<rect x="1793" y="644" width="2" height="3" fill="#707070"/>
<rect x="1793" y="655" width="2" height="2" fill="#707070"/>
<rect x="1788" y="647" width="12" height="8" fill="#1e7b70"/>
<rect x="1808" y="648" width="2" height="6" fill="#707070"/>
<rect x="1808" y="660" width="2" height="3" fill="#707070"/>
<rect x="1803" y="654" width="12" height="6" fill="#b03c3c"/>
<rect x="1824" y="652" width="2" height="4" fill="#707070"/>
<rect x="1824" y="662" width="2" height="3" fill="#707070"/>
<rect x="1819" y="656" width="12" height="6" fill="#1e7b70"/>
<rect x="1839" y="651" width="2" height="2" fill="#707070"/>
<rect x="1839" y="655" width="2" height="2" fill="#707070"/>
<rect x="1834" y="653" width="12" height="2" fill="#b03c3c"/>
<rect x="1854" y="649" width="2" height="2" fill="#707070"/>
<rect x="1854" y="656" width="2" height="1" fill="#707070"/>
<rect x="1849" y="651" width="12" height="5" fill="#1e7b70"/>
<rect x="1870" y="647" width="2" height="2" fill="#707070"/>
<rect x="1865" y="649" width="12" height="4" fill="#1e7b70"/>
<rect x="1885" y="645" width="2" height="4" fill="#707070"/>
<rect x="1885" y="652" width="2" height="1" fill="#707070"/>
<rect x="1880" y="649" width="12" height="3" fill="#1e7b70"/>
<rect x="1901" y="642" width="2" height="2" fill="#707070"/>
<rect x="1901" y="646" width="2" height="3" fill="#707070"/>
<rect x="1896" y="644" width="12" height="2" fill="#b03c3c"/>
<rect x="1916" y="636" width="2" height="2" fill="#707070"/>
<rect x="1916" y="643" width="2" height="4" fill="#707070"/>
<rect x="1911" y="638" width="12" height="5" fill="#1e7b70"/>
<rect x="1931" y="632" width="2" height="2" fill="#707070"/>
<rect x="1931" y="639" width="2" height="1" fill="#707070"/>
<rect x="1926" y="634" width="12" height="5" fill="#1e7b70"/>
<rect x="1947" y="631" width="2" height="1" fill="#707070"/>
<rect x="1947" y="634" width="2" height="2" fill="#707070"/>
<rect x="1942" y="632" width="12" height="2" fill="#1e7b70"/>
<rect x="1962" y="631" width="2" height="1" fill="#707070"/>
<rect x="1962" y="634" width="2" height="1" fill="#707070"/>
<rect x="1957" y="632" width="12" height="2" fill="#1e7b70"/>
<rect x="1978" y="627" width="2" height="2" fill="#707070"/>
<rect x="1978" y="635" width="2" height="1" fill="#707070"/>
<rect x="1973" y="629" width="12" height="6" fill="#1e7b70"/>
<rect x="1993" y="593" width="2" height="14" fill="#707070"/>
<rect x="1993" y="615" width="2" height="13" fill="#707070"/>
<rect x="1988" y="607" width="12" height="8" fill="#b03c3c"/>
<rect x="2008" y="574" width="2" height="6" fill="#707070"/>
<rect x="2008" y="601" width="2" height="6" fill="#707070"/>
<rect x="2003" y="580" width="12" height="21" fill="#1e7b70"/>
<rect x="2024" y="574" width="2" height="1" fill="#707070"/>
<rect x="2019" y="575" width="12" height="8" fill="#1e7b70"/>
</g>
<g clip-path="url(#cp)">
<rect x="22" y="1023" width="2" height="147" fill="#1c570d"/>
<rect x="38" y="1025" width="2" height="145" fill="#1c570d"/>
<rect x="53" y="1034" width="2" height="136" fill="#1c570d"/>
<rect x="68" y="1006" width="2" height="164" fill="#1c570d"/>
<rect x="84" y="1001" width="2" height="169" fill="#1c570d"/>
<rect x="99" y="1004" width="2" height="166" fill="#1c570d"/>
<rect x="115" y="1000" width="2" height="170" fill="#1c570d"/>
<rect x="130" y="1021" width="2" height="149" fill="#1c570d"/>
<rect x="145" y="1029" width="2" height="141" fill="#1c570d"/>
<rect x="161" y="1053" width="2" height="117" fill="#1c570d"/>
<rect x="176" y="1065" width="2" height="105" fill="#1c570d"/>
<rect x="192" y="1083" width="2" height="87" fill="#1c570d"/>
<rect x="207" y="1095" width="2" height="75" fill="#1c570d"/>
<rect x="222" y="1124" width="2" height="46" fill="#1c570d"/>
<rect x="238" y="1138" width="2" height="32" fill="#1c570d"/>
<rect x="253" y="1151" width="2" height="19" fill="#1c570d"/>
<rect x="269" y="1149" width="2" height="21" fill="#1c570d"/>
<rect x="284" y="1126" width="2" height="44" fill="#1c570d"/>
<rect x="299" y="1115" width="2" height="55" fill="#1c570d"/>
<rect x="315" y="1089" width="2" height="81" fill="#1c570d"/>
<rect x="330" y="1070" width="2" height="100" fill="#1c570d"/>
<rect x="345" y="1073" width="2" height="97" fill="#1c570d"/>
<rect x="361" y="1040" width="2" height="130" fill="#1c570d"/>
<rect x="376" y="1044" width="2" height="126" fill="#1c570d"/>
<rect x="392" y="1004" width="2" height="166" fill="#1c570d"/>
<rect x="407" y="1004" width="2" height="166" fill="#1c570d"/>
<rect x="422" y="1057" width="2" height="113" fill="#1c570d"/>
<rect x="438" y="1006" width="2" height="164" fill="#1c570d"/>
<rect x="453" y="990" width="2" height="180" fill="#1c570d"/>
<rect x="469" y="1011" width="2" height="159" fill="#1c570d"/>
<rect x="484" y="1043" width="2" height="127" fill="#1c570d"/>
<rect x="499" y="1015" width="2" height="155" fill="#1c570d"/>
<rect x="515" y="1029" width="2" height="141" fill="#1c570d"/>
<rect x="530" y="1020" width="2" height="150" fill="#1c570d"/>
<rect x="546" y="1037" width="2" height="133" fill="#1c570d"/>
<rect x="561" y="1049" width="2" height="121" fill="#1c570d"/>
<rect x="576" y="1010" width="2" height="160" fill="#1c570d"/>
<rect x="592" y="1021" width="2" height="149" fill="#1c570d"/>
<rect x="607" y="1048" width="2" height="122" fill="#1c570d"/>
<rect x="623" y="1067" width="2" height="103" fill="#1c570d"/>
<rect x="638" y="1063" width="2" height="107" fill="#1c570d"/>
<rect x="653" y="1055" width="2" height="115" fill="#1c570d"/>
<rect x="669" y="1059" width="2" height="111" fill="#1c570d"/>
<rect x="684" y="1066" width="2" height="104" fill="#1c570d"/>
<rect x="700" y="1049" width="2" height="121" fill="#1c570d"/>
<rect x="715" y="1047" width="2" height="123" fill="#1c570d"/>
<rect x="730" y="1014" width="2" height="156" fill="#1c570d"/>
<rect x="746" y="1041" width="2" height="129" fill="#1c570d"/>
<rect x="761" y="1030" width="2" height="140" fill="#1c570d"/>
<rect x="777" y="1052" width="2" height="118" fill="#1c570d"/>
<rect x="792" y="1092" width="2" height="78" fill="#1c570d"/>
<rect x="807" y="1138" width="2" height="32" fill="#1c570d"/>
<rect x="823" y="1125" width="2" height="45" fill="#1c570d"/>
<rect x="838" y="1107" width="2" height="63" fill="#1c570d"/>
<rect x="854" y="1093" width="2" height="77" fill="#1c570d"/>
<rect x="869" y="1090" width="2" height="80" fill="#1c570d"/>
<rect x="884" y="1087" width="2" height="83" fill="#1c570d"/>
<rect x="900" y="1076" width="2" height="94" fill="#1c570d"/>
<rect x="915" y="1087" width="2" height="83" fill="#1c570d"/>
<rect x="931" y="1089" width="2" height="81" fill="#1c570d"/>
<rect x="946" y="1104" width="2" height="66" fill="#1c570d"/>
<rect x="961" y="1102" width="2" height="68" fill="#1c570d"/>
<rect x="977" y="1088" width="2" height="82" fill="#1c570d"/>
<rect x="992" y="1102" width="2" height="68" fill="#1c570d"/>
<rect x="1008" y="1103" width="2" height="67" fill="#1c570d"/>
<rect x="1023" y="1106" width="2" height="64" fill="#1c570d"/>
<rect x="1038" y="1099" width="2" height="71" fill="#1c570d"/>
<rect x="1054" y="1140" width="2" height="30" fill="#1c570d"/>
<rect x="1069" y="1151" width="2" height="19" fill="#1c570d"/>
<rect x="1085" y="1156" width="2" height="14" fill="#1c570d"/>
<rect x="1100" y="1166" width="2" height="4" fill="#1c570d"/>
<rect x="1115" y="1167" width="2" height="3" fill="#1c570d"/>
<rect x="1131" y="1168" width="2" height="14" fill="#851e1e"/>
<rect x="1146" y="1168" width="2" height="13" fill="#851e1e"/>
<rect x="1162" y="1162" width="2" height="8" fill="#1c570d"/>
<rect x="1177" y="1163" width="2" height="7" fill="#1c570d"/>
<rect x="1192" y="1146" width="2" height="24" fill="#1c570d"/>
<rect x="1208" y="1147" width="2" height="23" fill="#1c570d"/>
<rect x="1223" y="1124" width="2" height="46" fill="#1c570d"/>
<rect x="1239" y="1113" width="2" height="57" fill="#1c570d"/>
<rect x="1254" y="1113" width="2" height="57" fill="#1c570d"/>
<rect x="1269" y="1121" width="2" height="49" fill="#1c570d"/>
<rect x="1285" y="1130" width="2" height="40" fill="#1c570d"/>
<rect x="1300" y="1095" width="2" height="75" fill="#1c570d"/>
<rect x="1316" y="1102" width="2" height="68" fill="#1c570d"/>
<rect x="1331" y="1103" width="2" height="67" fill="#1c570d"/>
<rect x="1346" y="1120" width="2" height="50" fill="#1c570d"/>
<rect x="1362" y="1120" width="2" height="50" fill="#1c570d"/>
<rect x="1377" y="1121" width="2" height="49" fill="#1c570d"/>
<rect x="1393" y="1112" width="2" height="58" fill="#1c570d"/>
<rect x="1408" y="1110" width="2" height="60" fill="#1c570d"/>
<rect x="1423" y="1135" width="2" height="35" fill="#1c570d"/>
<rect x="1439" y="1137" width="2" height="33" fill="#1c570d"/>
<rect x="1454" y="1148" width="2" height="22" fill="#1c570d"/>
<rect x="1470" y="1154" width="2" height="16" fill="#1c570d"/>
<rect x="1485" y="1166" width="2" height="4" fill="#1c570d"/>
<rect x="1500" y="1142" width="2" height="28" fill="#1c570d"/>
<rect x="1516" y="1151" width="2" height="19" fill="#1c570d"/>
<rect x="1531" y="1147" width="2" height="23" fill="#1c570d"/>
<rect x="1547" y="1146" width="2" height="24" fill="#1c570d"/>
<rect x="1562" y="1123" width="2" height="47" fill="#1c570d"/>
<rect x="1577" y="1125" width="2" height="45" fill="#1c570d"/>
<rect x="1593" y="1132" width="2" height="38" fill="#1c570d"/>
<rect x="1608" y="1101" width="2" height="69" fill="#1c570d"/>
<rect x="1624" y="1102" width="2" height="68" fill="#1c570d"/>
<rect x="1639" y="1091" width="2" height="79" fill="#1c570d"/>
<rect x="1654" y="1095" width="2" height="75" fill="#1c570d"/>
<rect x="1670" y="1092" width="2" height="78" fill="#1c570d"/>
<rect x="1685" y="1112" width="2" height="58" fill="#1c570d"/>
<rect x="1701" y="1112" width="2" height="58" fill="#1c570d"/>
<rect x="1716" y="1119" width="2" height="51" fill="#1c570d"/>
<rect x="1731" y="1102" width="2" height="68" fill="#1c570d"/>
<rect x="1747" y="1094" width="2" height="76" fill="#1c570d"/>
<rect x="1762" y="1085" width="2" height="85" fill="#1c570d"/>
<rect x="1778" y="1069" width="2" height="101" fill="#1c570d"/>
<rect x="1793" y="1072" width="2" height="98" fill="#1c570d"/>
<rect x="1808" y="1074" width="2" height="96" fill="#1c570d"/>
<rect x="1824" y="1046" width="2" height="124" fill="#1c570d"/>
<rect x="1839" y="1047" width="2" height="123" fill="#1c570d"/>
<rect x="1854" y="1051" width="2" height="119" fill="#1c570d"/>
<rect x="1870" y="1080" width="2" height="90" fill="#1c570d"/>
<rect x="1885" y="1093" width="2" height="77" fill="#1c570d"/>
<rect x="1901" y="1077" width="2" height="93" fill="#1c570d"/>
<rect x="1916" y="1074" width="2" height="96" fill="#1c570d"/>
<rect x="1931" y="1087" width="2" height="83" fill="#1c570d"/>
<rect x="1947" y="1087" width="2" height="83" fill="#1c570d"/>
<rect x="1962" y="1098" width="2" height="72" fill="#1c570d"/>
<rect x="1978" y="1107" width="2" height="63" fill="#1c570d"/>
<rect x="1993" y="1106" width="2" height="64" fill="#1c570d"/>
<rect x="2008" y="1115" width="2" height="55" fill="#1c570d"/>
<rect x="2024" y="1145" width="2" height="25" fill="#1c570d"/>
</g>
</g>
<polyline clip-path="url(#cp)" fill="none" stroke="#c87800" stroke-width="2" stroke-linejoin="round" points="7.8,778.5 23.2,774.0 38.6,775.9 54.0,773.0 69.4,770.0 84.8,770.0 100.2,766.0 115.6,765.0 131.0,770.0 146.4,772.3 161.8,752.4 177.2,761.4 192.6,767.2 208.0,768.0 223.4,770.0 238.8,774.2 254.2,770.8 269.6,772.6 285.0,776.4 300.4,780.4 315.8,790.9 331.2,801.8 346.6,799.3 362.0,798.9 377.4,807.8 392.8,809.9 408.2,811.8 423.6,811.2 439.0,810.9 454.4,816.9 469.8,817.4 485.2,824.6 500.6,834.6 516.0,869.0 531.4,871.0 546.8,863.7 562.2,870.2 577.6,936.8 593.0,913.4 608.4,916.3 623.8,918.0 639.2,912.0 654.6,912.0 669.9,918.5 685.3,916.8 700.7,914.6 716.1,923.1 731.5,931.3 746.9,935.1 762.3,935.9 777.7,933.4 793.1,909.2 808.5,914.7 823.9,918.9 839.3,929.7 854.7,943.0 870.1,939.1 885.5,935.3 900.9,922.5 916.3,911.8 931.7,903.6 947.1,885.0 962.5,879.8 977.9,887.9 993.3,882.4 1008.7,878.5 1024.1,873.0 1039.5,873.0 1054.9,872.0 1070.3,879.0 1085.7,873.0 1101.1,862.7 1116.5,856.6 1131.9,856.6 1147.3,857.6 1162.7,860.5 1178.1,859.3 1193.5,865.1 1208.9,861.7 1224.3,863.3 1239.7,863.0 1255.1,862.0 1270.5,864.7 1285.9,864.7 1301.3,861.6 1316.7,863.7 1332.1,865.2 1347.5,860.9 1362.9,859.1 1378.3,852.7 1393.7,848.0 1409.1,848.8 1424.5,844.7 1439.8,848.0 1455.2,845.0 1470.6,842.5 1486.0,842.8 1501.4,840.1 1516.8,837.7 1532.2,836.2 1547.6,835.0 1563.0,834.3 1578.4,833.6 1593.8,833.8 1609.2,832.2 1624.6,836.2 1640.0,836.2 1655.4,836.8 1670.8,833.7 1686.2,831.2 1701.6,830.3 1717.0,828.3 1732.4,820.4 1747.8,818.2 1763.2,807.6 1778.6,806.4 1794.0,804.2 1809.4,815.8 1824.8,820.7 1840.2,824.3 1855.6,829.8 1871.0,832.7 1886.4,834.9 1901.8,818.7 1917.2,815.3 1932.6,820.7 1948.0,830.7 1963.4,830.7 1978.8,826.9 1994.2,801.6 2009.6,804.3 2025.0,810.5"/>
<g shape-rendering="crispEdges">
<rect x="1547" y="795" width="479" height="2" fill="#f23645"/>
<rect x="21" y="490" width="2570" height="2" fill="#2a2e39"/>
<rect x="21" y="727" width="2570" height="2" fill="#2a2e39"/>
<rect x="21" y="964" width="2570" height="2" fill="#2a2e39"/>
<rect x="2448" y="21" width="2" height="1236" fill="#333333"/>
<rect x="21" y="1202" width="2570" height="2" fill="#333333"/>
</g>
<text x="1614" y="601.5" fill="#2962ff" font-size="28" stroke="#2962ff" stroke-width="0.3" textLength="255.0" lengthAdjust="spacingAndGlyphs">Gradually increasing</text>
<text x="1675.6" y="771.6" fill="#f23645" font-size="28" stroke="#f23645" stroke-width="0.3" textLength="132.4" lengthAdjust="spacingAndGlyphs">Mostly flat</text>
<text x="36.3" y="58.6" fill="#b2b2b2" font-size="24" stroke="#b2b2b2" stroke-width="0.5" textLength="348.2" lengthAdjust="spacingAndGlyphs">BTC/USD Average, 1h, Coinalyze</text>
<text x="400.4" y="58.6" fill="#b2b2b2" font-size="24" stroke="#b2b2b2" stroke-width="0.5" textLength="17.6" lengthAdjust="spacingAndGlyphs">O</text>
<text x="418.5" y="58.6" fill="#ef5350" font-size="24" stroke="#ef5350" stroke-width="0.5" textLength="107.5" lengthAdjust="spacingAndGlyphs">114057.90</text>
<text x="540.5" y="58.6" fill="#b2b2b2" font-size="24" stroke="#b2b2b2" stroke-width="0.5" textLength="16.4" lengthAdjust="spacingAndGlyphs">H</text>
<text x="557.4" y="58.6" fill="#ef5350" font-size="24" stroke="#ef5350" stroke-width="0.5" textLength="108.4" lengthAdjust="spacingAndGlyphs">114133.70</text>
<text x="680.9" y="58.6" fill="#b2b2b2" font-size="24" stroke="#b2b2b2" stroke-width="0.5" textLength="13.1" lengthAdjust="spacingAndGlyphs">L</text>
<text x="694.5" y="58.6" fill="#ef5350" font-size="24" stroke="#ef5350" stroke-width="0.5" textLength="106.5" lengthAdjust="spacingAndGlyphs">113967.93</text>
<text x="816" y="58.6" fill="#b2b2b2" font-size="24" stroke="#b2b2b2" stroke-width="0.5" textLength="14.5" lengthAdjust="spacingAndGlyphs">C</text>
<text x="831" y="58.6" fill="#ef5350" font-size="24" stroke="#ef5350" stroke-width="0.5" textLength="108.0" lengthAdjust="spacingAndGlyphs">113969.39</text>
<text x="955.6" y="58.6" fill="#ef5350" font-size="24" stroke="#ef5350" stroke-width="0.5" textLength="167.0" lengthAdjust="spacingAndGlyphs">−87.82 (−0.08%)</text>
<text x="36" y="530.9" fill="#b2b2b2" font-size="24" stroke="#b2b2b2" stroke-width="0.5" textLength="274.5" lengthAdjust="spacingAndGlyphs">Aggregated Open Interest</text>
<text x="326.2" y="530.9" fill="#26a69a" font-size="24" stroke="#26a69a" stroke-width="0.5" textLength="72.3" lengthAdjust="spacingAndGlyphs">38.66B</text>
<text x="413.4" y="530.9" fill="#26a69a" font-size="24" stroke="#26a69a" stroke-width="0.5" textLength="84.9" lengthAdjust="spacingAndGlyphs">38.769B</text>
<text x="513.2" y="530.9" fill="#26a69a" font-size="24" stroke="#26a69a" stroke-width="0.5" textLength="85.1" lengthAdjust="spacingAndGlyphs">38.656B</text>
<text x="613.2" y="530.9" fill="#26a69a" font-size="24" stroke="#26a69a" stroke-width="0.5" textLength="84.9" lengthAdjust="spacingAndGlyphs">38.754B</text>
<text x="36" y="767.8" fill="#b2b2b2" font-size="24" stroke="#b2b2b2" stroke-width="0.5" textLength="262.3" lengthAdjust="spacingAndGlyphs">Aggregated CVD Spot (0)</text>
<text x="315.6" y="767.8" fill="#ff9800" font-size="24" stroke="#ff9800" stroke-width="0.5" textLength="96.1" lengthAdjust="spacingAndGlyphs">−16.967K</text>
<text x="36" y="1004.9" fill="#b2b2b2" font-size="24" stroke="#b2b2b2" stroke-width="0.5" textLength="447.3" lengthAdjust="spacingAndGlyphs">Aggregated Funding Rate (AVG, close, 10)</text>
<text x="498.8" y="1004.9" fill="#33b01f" font-size="24" stroke="#33b01f" stroke-width="0.5" textLength="71.5" lengthAdjust="spacingAndGlyphs">0.0012</text>
<text x="2464" y="160.1" fill="#b2b2b2" font-size="24" stroke="#b2b2b2" stroke-width="0.5" textLength="109.6" lengthAdjust="spacingAndGlyphs">113000.00</text>
<text x="2464" y="227.1" fill="#b2b2b2" font-size="24" stroke="#b2b2b2" stroke-width="0.5" textLength="109.6" lengthAdjust="spacingAndGlyphs">112000.00</text>
<text x="2464" y="296.1" fill="#b2b2b2" font-size="24" stroke="#b2b2b2" stroke-width="0.5" textLength="109.6" lengthAdjust="spacingAndGlyphs">111000.00</text>
<text x="2464" y="378.6" fill="#b2b2b2" font-size="24" stroke="#b2b2b2" stroke-width="0.5" textLength="109.6" lengthAdjust="spacingAndGlyphs">109800.00</text>
<text x="2464" y="448.1" fill="#b2b2b2" font-size="24" stroke="#b2b2b2" stroke-width="0.5" textLength="109.6" lengthAdjust="spacingAndGlyphs">108800.00</text>
<text x="2464" y="567.3" fill="#b2b2b2" font-size="24" stroke="#b2b2b2" stroke-width="0.5" textLength="38.3" lengthAdjust="spacingAndGlyphs">39B</text>
<text x="2464" y="636.4" fill="#b2b2b2" font-size="24" stroke="#b2b2b2" stroke-width="0.5" textLength="38.3" lengthAdjust="spacingAndGlyphs">38B</text>
<text x="2464" y="706.3" fill="#b2b2b2" font-size="24" stroke="#b2b2b2" stroke-width="0.5" textLength="38.3" lengthAdjust="spacingAndGlyphs">37B</text>
<text x="2464" y="777.1" fill="#b2b2b2" font-size="24" stroke="#b2b2b2" stroke-width="0.5" textLength="51.4" lengthAdjust="spacingAndGlyphs">−16K</text>
<text x="2464" y="865.1" fill="#b2b2b2" font-size="24" stroke="#b2b2b2" stroke-width="0.5" textLength="51.4" lengthAdjust="spacingAndGlyphs">−18K</text>
<text x="2464" y="952.6" fill="#b2b2b2" font-size="24" stroke="#b2b2b2" stroke-width="0.5" textLength="51.4" lengthAdjust="spacingAndGlyphs">−20K</text>
<text x="2464" y="990.3" fill="#b2b2b2" font-size="24" stroke="#b2b2b2" stroke-width="0.5" textLength="71.6" lengthAdjust="spacingAndGlyphs">0.0100</text>
<text x="2464" y="1084" fill="#b2b2b2" font-size="24" stroke="#b2b2b2" stroke-width="0.5" textLength="71.6" lengthAdjust="spacingAndGlyphs">0.0050</text>
<text x="2464" y="1178.1" fill="#b2b2b2" font-size="24" stroke="#b2b2b2" stroke-width="0.5" textLength="71.6" lengthAdjust="spacingAndGlyphs">0.0000</text>
<path d="M2448 69H2580a4 4 0 0 1 4 4V99a4 4 0 0 1 -4 4H2448Z" fill="#ef5350"/>
<text x="2464" y="94.6" fill="#fff" font-size="24" stroke="#fff" stroke-width="0.5" textLength="109.6" lengthAdjust="spacingAndGlyphs">113969.39</text>
<path d="M2448 558H2556a4 4 0 0 1 4 4V588a4 4 0 0 1 -4 4H2448Z" fill="#26a69a"/>
<text x="2464" y="583.6" fill="#fff" font-size="24" stroke="#fff" stroke-width="0.5" textLength="85.4" lengthAdjust="spacingAndGlyphs">38.754B</text>
<path d="M2448 793H2570a4 4 0 0 1 4 4V823a4 4 0 0 1 -4 4H2448Z" fill="#ff9800"/>
<text x="2464" y="818.6" fill="#000" font-size="24" stroke="#000" stroke-width="0.5" textLength="97.3" lengthAdjust="spacingAndGlyphs">−16.967K</text>
<path d="M2448 1128H2542a4 4 0 0 1 4 4V1158a4 4 0 0 1 -4 4H2448Z" fill="#2fa31c"/>
<text x="2464" y="1153.6" fill="#fff" font-size="24" stroke="#fff" stroke-width="0.5" textLength="71.6" lengthAdjust="spacingAndGlyphs">0.0012</text>
<text x="102.2" y="1239.2" fill="#b2b2b2" font-size="24" stroke="#b2b2b2" stroke-width="0.5" textLength="58.6" lengthAdjust="spacingAndGlyphs">12:00</text>
<text x="302.776" y="1239.2" fill="#b2b2b2" font-size="24" font-weight="700" stroke="#b2b2b2" stroke-width="0.5" textLength="27.0" lengthAdjust="spacingAndGlyphs">25</text>
<text x="471.752" y="1239.2" fill="#b2b2b2" font-size="24" stroke="#b2b2b2" stroke-width="0.5" textLength="58.6" lengthAdjust="spacingAndGlyphs">12:00</text>
<text x="672.328" y="1239.2" fill="#b2b2b2" font-size="24" font-weight="700" stroke="#b2b2b2" stroke-width="0.5" textLength="27.0" lengthAdjust="spacingAndGlyphs">26</text>
<text x="841.304" y="1239.2" fill="#b2b2b2" font-size="24" stroke="#b2b2b2" stroke-width="0.5" textLength="58.6" lengthAdjust="spacingAndGlyphs">12:00</text>
<text x="1041.88" y="1239.2" fill="#b2b2b2" font-size="24" font-weight="700" stroke="#b2b2b2" stroke-width="0.5" textLength="27.0" lengthAdjust="spacingAndGlyphs">27</text>
<text x="1210.86" y="1239.2" fill="#b2b2b2" font-size="24" stroke="#b2b2b2" stroke-width="0.5" textLength="58.6" lengthAdjust="spacingAndGlyphs">12:00</text>
<text x="1411.43" y="1239.2" fill="#b2b2b2" font-size="24" font-weight="700" stroke="#b2b2b2" stroke-width="0.5" textLength="27.0" lengthAdjust="spacingAndGlyphs">28</text>
<text x="1580.41" y="1239.2" fill="#b2b2b2" font-size="24" stroke="#b2b2b2" stroke-width="0.5" textLength="58.6" lengthAdjust="spacingAndGlyphs">12:00</text>
<text x="1780.98" y="1239.2" fill="#b2b2b2" font-size="24" font-weight="700" stroke="#b2b2b2" stroke-width="0.5" textLength="27.0" lengthAdjust="spacingAndGlyphs">29</text>
<text x="1949.96" y="1239.2" fill="#b2b2b2" font-size="24" stroke="#b2b2b2" stroke-width="0.5" textLength="58.6" lengthAdjust="spacingAndGlyphs">12:00</text>
<text x="2150.54" y="1239.2" fill="#b2b2b2" font-size="24" font-weight="700" stroke="#b2b2b2" stroke-width="0.5" textLength="27.0" lengthAdjust="spacingAndGlyphs">30</text>
<text x="2319.51" y="1239.2" fill="#b2b2b2" font-size="24" stroke="#b2b2b2" stroke-width="0.5" textLength="58.6" lengthAdjust="spacingAndGlyphs">12:00</text>
<path fill="#d1d4dc" d="M19.8 1282.1H35.9V1301.4H27.5V1289.9H19.8Z"/>
<circle cx="42" cy="1286.1" r="4.1" fill="#d1d4dc"/>
<path fill="#d1d4dc" d="M49.7 1282.1H59.2L51.6 1301.4H42.4Z"/>
<text x="65.8" y="1301.4" fill="#d1d4dc" font-size="25" stroke="#d1d4dc" stroke-width="0.7" textLength="141.4" lengthAdjust="spacingAndGlyphs">TradingView</text>
</svg>
</body></html>
